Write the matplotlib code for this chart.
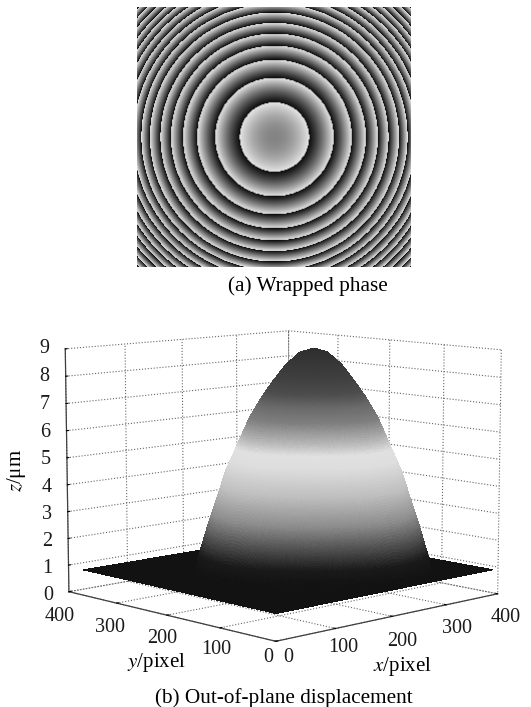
import numpy as np
import matplotlib
matplotlib.use('Agg')
import matplotlib.pyplot as plt
from matplotlib.colors import LinearSegmentedColormap
from mpl_toolkits.mplot3d import proj3d

plt.rcParams['font.family'] = ['Liberation Serif', 'DejaVu Serif']
plt.rcParams['mathtext.fontset'] = 'stix'
plt.rcParams['grid.linestyle'] = ':'
plt.rcParams['grid.color'] = '0.4'
plt.rcParams['grid.linewidth'] = 0.8

FIG_W, FIG_H = 531, 707

# ring edges of the wrapped phase map, pixels from centre
ring_radii = [34.6, 59, 77, 91, 103, 113.6, 124, 132.6, 140.5, 148, 155.3, 162, 168.5, 175, 181, 187, 192.5]
centre_phase = 0.55

# dome profile read from the silhouette (radius in data pixels, height in um)
profile_r = [0, 18, 36, 54, 68, 84, 99, 115, 126, 138, 146, 152, 154, 600]
profile_z = [9.05, 8.9, 8.46, 7.81, 7.25, 6.5, 5.55, 4.55, 3.6, 2.6, 1.85, 1.3, 0.9, 0.9]

gray_z = [0.9, 1.5, 2.0, 3.0, 4.0, 5.0, 5.4, 5.8, 6.5, 7.0, 7.5, 8.0, 9.05]
gray_v = [0.07, 0.10, 0.25, 0.55, 0.75, 0.87, 0.88, 0.72, 0.50, 0.42, 0.30, 0.25, 0.18]

x_ticks = [0, 100, 200, 300, 400]
y_ticks = [0, 100, 200, 300, 400]
z_ticks = [0, 1, 2, 3, 4, 5, 6, 7, 8, 9]

fig = plt.figure(figsize=(FIG_W / 100, FIG_H / 100), dpi=100)

# (a) wrapped phase
ax_a = fig.add_axes([137 / FIG_W, 1 - 267 / FIG_H, 273 / FIG_W, 260 / FIG_H])
cols, rows = np.meshgrid(np.arange(-136.5, 136.5), np.arange(-130, 130))
rad = np.hypot(cols, rows)
edges2 = np.array(ring_radii) ** 2
cycle = np.interp(rad ** 2, np.r_[0, edges2], np.r_[centre_phase, np.arange(1, len(edges2) + 1)])
ax_a.imshow(0.05 + 0.85 * (cycle % 1), cmap='gray', vmin=0, vmax=1, aspect='auto', interpolation='bilinear')
ax_a.axis('off')
fig.text(308 / FIG_W, 1 - 286 / FIG_H, '(a) Wrapped phase', ha='center', va='center', fontsize=15.3)

# (b) displacement surface
W, cx, cy = 483.07, 276.24, 228.41
ax = fig.add_axes([(cx - W / 2) / FIG_W, (cy - W / 2) / FIG_H, W / FIG_W, W / FIG_H], projection='3d')
ax.patch.set_visible(False)
ax.view_init(elev=8.593, azim=-133.472)
ax.set_proj_type('persp', focal_length=0.8313)
ax.set_box_aspect((1, 0.9947, 0.8028))
ax.set_xlim(0, 400)
ax.set_ylim(0, 400)
ax.set_zlim(0, 9)
ax.set_xticks(x_ticks)
ax.set_yticks(y_ticks)
ax.set_zticks(z_ticks)
ax.set_xticklabels([])
ax.set_yticklabels([])
ax.set_zticklabels([])

for axis in (ax.xaxis, ax.yaxis, ax.zaxis):
    axis.pane.set_visible(False)
    axis.line.set_color('0.25')
    axis.line.set_linewidth(0.9)
    axis._axinfo['tick']['inward_factor'] = 0.0
    axis._axinfo['tick']['outward_factor'] = 0.1
    axis._axinfo['tick']['color'] = '0.25'

X, Y = np.meshgrid(np.linspace(5, 395, 300), np.linspace(5, 375, 300))
dist = np.hypot(X - 228, Y - 171)
Z = np.interp(dist, profile_r, profile_z)
cmap = LinearSegmentedColormap.from_list('dome', [((z - gray_z[0]) / (gray_z[-1] - gray_z[0]), (g, g, g))
                                                  for z, g in zip(gray_z, gray_v)])
colors = cmap((Z - gray_z[0]) / (gray_z[-1] - gray_z[0]))
ax.plot_surface(X, Y, Z, facecolors=colors, rcount=300, ccount=300, shade=False, linewidth=0, antialiased=False)

# tick labels are placed from the projected tick position
M = ax.get_proj()

def tick_label(x, y, z, text, dx, dy, ha='center'):
    u, v, _ = proj3d.proj_transform(x, y, z, M)
    ax.annotate(text, (u, v), xytext=(dx, dy), textcoords='offset pixels', ha=ha, va='center',
                fontsize=14.5, color='0.1', annotation_clip=False)

x_offsets = [(12, -16), (8, -19), (10, -25), (11, -24), (8, -24)]
y_offsets = [(-8, -16), (-4, -22), (-5, -23), (-7, -24), (-9, -25)]
for t, (dx, dy) in zip(x_ticks, x_offsets):
    tick_label(t, 0, 0, str(t), dx, dy)
for t, (dx, dy) in zip(y_ticks, y_offsets):
    tick_label(0, t, 0, str(t), dx, dy)
for t in z_ticks:
    tick_label(0, 400, t, str(t), -16, -(9 - t) * 0.45, ha='right')

fig.text(17 / FIG_W, 1 - 470 / FIG_H, r'$\mathit{z}$/μm', rotation=90, ha='center', va='center', fontsize=15)
fig.text(156 / FIG_W, 1 - 663 / FIG_H, r'$\mathit{y}$/pixel', ha='center', va='center', fontsize=15)
fig.text(402 / FIG_W, 1 - 667 / FIG_H, r'$\mathit{x}$/pixel', ha='center', va='center', fontsize=15)
fig.text(284 / FIG_W, 1 - 698 / FIG_H, '(b) Out-of-plane displacement', ha='center', va='center', fontsize=15.3)

fig.savefig('out.png', dpi=100)
